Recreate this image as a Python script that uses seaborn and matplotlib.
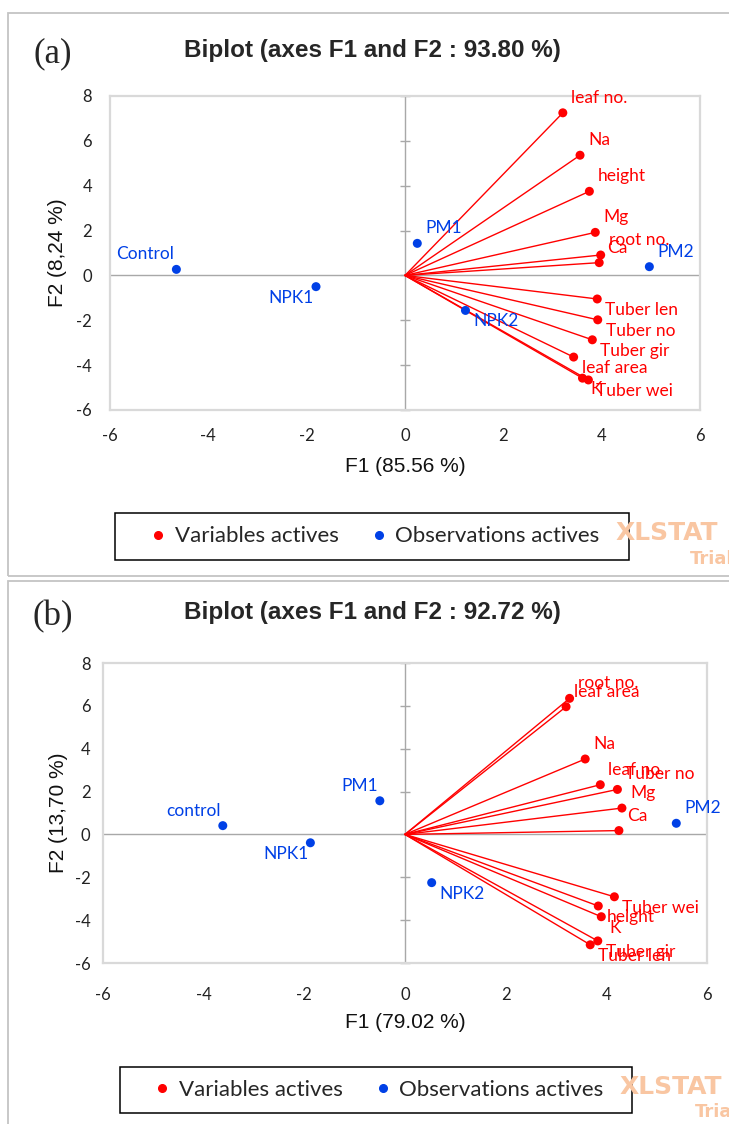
import matplotlib
matplotlib.use("Agg")
import matplotlib.pyplot as plt
from matplotlib.patches import Rectangle
from matplotlib.lines import Line2D
import seaborn as sns
import pandas as pd

# ---------------- data ----------------
# Panel (a)
title_a = "Biplot (axes F1 and F2 : 93.80 %)"
xlabel_a = "F1 (85.56 %)"
ylabel_a = "F2 (8,24 %)"
var_names_a = ["leaf no.", "Na", "height", "Mg", "root no.", "Ca",
               "Tuber len", "Tuber no", "Tuber gir", "leaf area", "K", "Tuber wei"]
var_f1_a = [3.21, 3.56, 3.75, 3.87, 3.98, 3.95, 3.91, 3.92, 3.81, 3.43, 3.61, 3.73]
var_f2_a = [7.25, 5.36, 3.75, 1.92, 0.91, 0.57, -1.05, -1.98, -2.87, -3.64, -4.58, -4.66]
obs_names_a = ["Control", "NPK1", "PM1", "NPK2", "PM2"]
obs_f1_a = [-4.65, -1.81, 0.25, 1.23, 4.97]
obs_f2_a = [0.27, -0.50, 1.43, -1.56, 0.39]

# Panel (b)
title_b = "Biplot (axes F1 and F2 : 92.72 %)"
xlabel_b = "F1 (79.02 %)"
ylabel_b = "F2 (13,70 %)"
var_names_b = ["root no.", "leaf area", "Na", "leaf no.", "Tuber no", "Mg", "Ca",
               "Tuber wei", "height", "K", "Tuber gir", "Tuber len"]
var_f1_b = [3.27, 3.20, 3.58, 3.88, 4.22, 4.31, 4.25, 4.16, 3.84, 3.90, 3.83, 3.68]
var_f2_b = [6.35, 5.96, 3.52, 2.32, 2.10, 1.23, 0.18, -2.91, -3.34, -3.84, -4.97, -5.15]
obs_names_b = ["control", "NPK1", "PM1", "NPK2", "PM2"]
obs_f1_b = [-3.62, -1.88, -0.50, 0.53, 5.39]
obs_f2_b = [0.41, -0.39, 1.57, -2.25, 0.52]

x_ticks = [-6, -4, -2, 0, 2, 4, 6]
y_ticks = [-6, -4, -2, 0, 2, 4, 6, 8]
legend_labels = ["Variables actives", "Observations actives"]

# ---------------- styles ----------------
sns.set_style("white")
plt.rcParams["font.family"] = ["Lato", "DejaVu Sans"]
plt.rcParams["axes.unicode_minus"] = False

RED = "#ff0000"
BLUE = "#0040e6"
WM = "#f9c6a2"
W, H = 729, 1124
fig = plt.figure(figsize=(W / 100, H / 100), dpi=100)


def fx(px):
    return px / W


def fy(py):
    return 1 - py / H


# label placements for observations (ul, ll, ur, lr)
obs_place_a = ["ul", "ll", "ur", "lr", "ur"]
obs_place_b = ["ul", "ll", "ul", "lr", "ur"]


def offset(place):
    dx = 8 if place[1] == "r" else -2
    dy = -15 if place[0] == "u" else 11
    ha = "left" if place[1] == "r" else "right"
    return dx, -dy, ha


def panel(box, title, letter, xlabel, ylabel, vnames, vx, vy, onames, ox, oy, oplace,
          frame_y, title_y, xpad, ypad, xlab_off, ylab_off, legend_box, wm_x, trial_x):
    left, top, right, bottom = box
    # panel frame
    fig.patches.append(Rectangle((fx(8), fy(frame_y[1])), fx(760), fy(frame_y[0]) - fy(frame_y[1]),
                                 transform=fig.transFigure, fill=False, edgecolor="#c4c4c4",
                                 lw=1.3, zorder=0))
    ax = fig.add_axes([fx(left), fy(bottom), fx(right) - fx(left), fy(top) - fy(bottom)])
    ax.set_xlim(-6, 6)
    ax.set_ylim(-6, 8)
    ax.axhline(0, color="#a8a8a8", lw=1.0, zorder=1)
    ax.axvline(0, color="#a8a8a8", lw=1.0, zorder=1)
    ax.scatter([0] * len(y_ticks), y_ticks, marker="_", s=60, color="#a8a8a8", lw=1.0,
               zorder=1, clip_on=False)

    dv = pd.DataFrame({"F1": vx, "F2": vy, "name": vnames})
    do = pd.DataFrame({"F1": ox, "F2": oy, "name": onames})
    for x, y in zip(dv["F1"], dv["F2"]):
        ax.plot([0, x], [0, y], color=RED, lw=1.0, zorder=2)
    sns.scatterplot(data=dv, x="F1", y="F2", ax=ax, color=RED, s=42, edgecolor="none",
                    zorder=3, legend=False)
    sns.scatterplot(data=do, x="F1", y="F2", ax=ax, color=BLUE, s=42, edgecolor="none",
                    zorder=3, legend=False)
    for n, x, y in zip(dv["name"], dv["F1"], dv["F2"]):
        place = "ur" if y >= 0 else "lr"
        dx, dy, ha = offset(place)
        ax.annotate(n, (x, y), xytext=(dx, dy), textcoords="offset pixels", ha=ha,
                    va="center", color=RED, fontsize=12.5, zorder=4)
    for n, x, y, p in zip(do["name"], do["F1"], do["F2"], oplace):
        dx, dy, ha = offset(p)
        ax.annotate(n, (x, y), xytext=(dx, dy), textcoords="offset pixels", ha=ha,
                    va="center", color=BLUE, fontsize=12.5, zorder=4)

    ax.set_xticks(x_ticks)
    ax.set_yticks(y_ticks)
    ax.tick_params(axis="both", length=0, labelsize=12, labelcolor="#222222")
    ax.tick_params(axis="x", pad=xpad)
    ax.tick_params(axis="y", pad=ypad)
    for s in ax.spines.values():
        s.set_color("#d9d9d9")
        s.set_linewidth(1.6)
    ax.set_xlabel(xlabel, fontsize=15, family=["Liberation Sans", "DejaVu Sans"], color="#111111")
    ax.set_ylabel(ylabel, fontsize=15, family=["Liberation Sans", "DejaVu Sans"], color="#111111")
    ax.xaxis.set_label_coords(0.5, -xlab_off / (bottom - top))
    ax.xaxis.label.set_va("center")
    ax.yaxis.set_label_coords(-ylab_off / (right - left), 0.5)
    ax.yaxis.label.set_va("center")
    ax.grid(False)

    # titles
    fig.text(fx(372), fy(title_y), title, ha="center", va="center",
             fontsize=17.5, fontweight="bold",
             family=["Liberation Sans", "DejaVu Sans"])
    fig.text(fx(53), fy(title_y + 4), letter, ha="center", va="center", fontsize=25,
             family=["Liberation Serif", "DejaVu Serif"])

    # legend
    lx0, ly0, lx1, ly1 = legend_box
    fig.patches.append(Rectangle((fx(lx0), fy(ly1)), fx(lx1) - fx(lx0), fy(ly0) - fy(ly1),
                                 transform=fig.transFigure, fill=True, facecolor="white",
                                 edgecolor="black", lw=1.1, zorder=1))
    handles = [Line2D([], [], marker="o", ls="", color=RED, markersize=5.5),
               Line2D([], [], marker="o", ls="", color=BLUE, markersize=5.5)]
    fig.legend(handles, legend_labels, loc="center",
               bbox_to_anchor=(fx((lx0 + lx1) / 2 + 3.5), fy((ly0 + ly1) / 2)),
               ncol=2, frameon=False, fontsize=16, handlelength=0.6, handletextpad=0.45,
               columnspacing=1.5)
    # watermark
    fig.text(fx(wm_x), fy((ly0 + ly1) / 2 - 3), "XLSTAT", color=WM, fontsize=18,
             fontweight="bold", ha="left", va="center",
             family=["DejaVu Sans"])
    fig.text(fx(trial_x), fy((ly0 + ly1) / 2 + 22), "Trial", color=WM, fontsize=13,
             fontweight="bold", ha="left", va="center",
             family=["DejaVu Sans"])
    return ax


panel((110, 96, 700, 410), title_a, "(a)", xlabel_a, ylabel_a,
      var_names_a, var_f1_a, var_f2_a, obs_names_a, obs_f1_a, obs_f2_a, obs_place_a,
      frame_y=(13, 576), title_y=50, xpad=13, ypad=13, xlab_off=57, ylab_off=52,
      legend_box=(115, 513, 629, 560), wm_x=616, trial_x=690)

panel((103, 663, 707, 963), title_b, "(b)", xlabel_b, ylabel_b,
      var_names_b, var_f1_b, var_f2_b, obs_names_b, obs_f1_b, obs_f2_b, obs_place_b,
      frame_y=(581, 1140), title_y=613, xpad=17, ypad=9, xlab_off=59, ylab_off=45,
      legend_box=(120, 1067, 632, 1113), wm_x=620, trial_x=695)

fig.savefig("out.png", dpi=100)
